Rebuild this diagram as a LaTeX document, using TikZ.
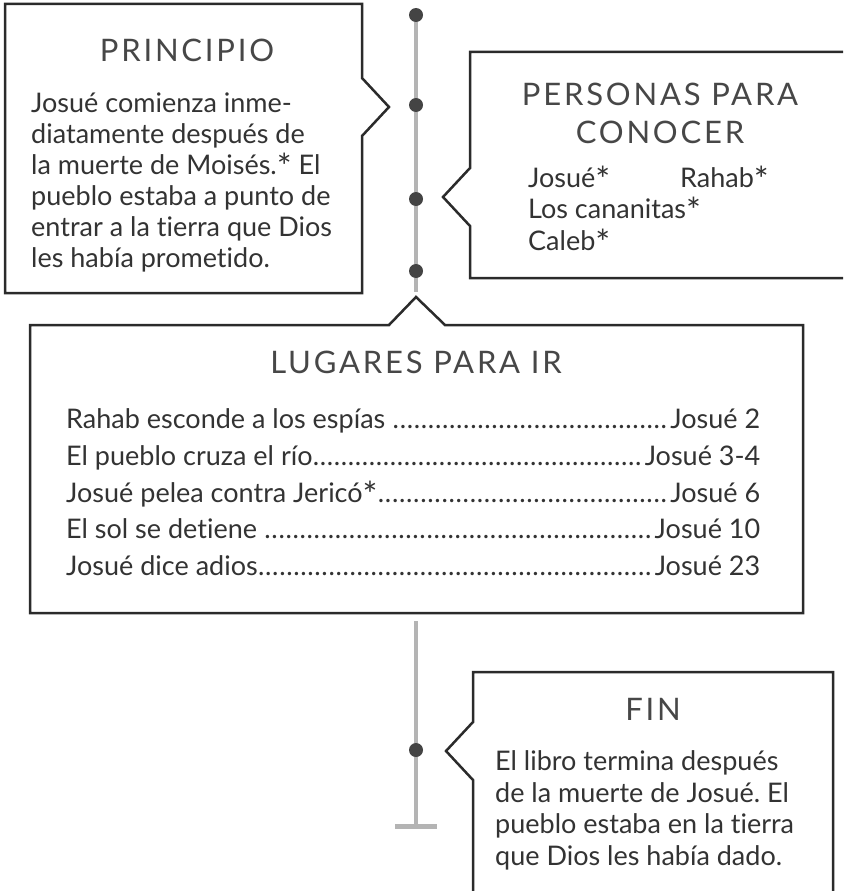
\documentclass[tikz,border=0pt]{standalone}
\usepackage{fontspec}
\setmainfont[Ligatures=NoCommon]{Lato}
\newfontfamily\titlefont[LetterSpace=9]{Lato}
\frenchspacing
\definecolor{txtgray}{HTML}{333333}
\definecolor{headgray}{HTML}{474747}
\definecolor{linegray}{HTML}{B4B4B4}
\definecolor{dotgray}{HTML}{444444}
\definecolor{boxline}{HTML}{2B2B2B}
\newcommand{\leaderdots}{\xleaders\hbox to 7pt{\hss.\hss}\hfill\kern3pt}
\newcommand{\starmark}{\smash{\raisebox{-5.5pt}{\scalebox{1.3}{*}}}}
\tikzset{
  callout/.style={draw=boxline, line width=2.5pt, line join=miter, fill=white},
  body/.style={font=\fontsize{27}{31}\selectfont, text=txtgray, inner sep=0pt},
  head/.style={font=\titlefont\fontsize{31}{36}\selectfont, text=headgray, inner sep=0pt, anchor=base},
  tdot/.style={circle, fill=dotgray, minimum size=14pt, inner sep=0pt},
}
\begin{document}
\begin{tikzpicture}[x=1pt, y=-1pt]
                \clip (0,0) rectangle (843,891);
                % timeline
                \coordinate (ltop) at (416,15);
                \coordinate (lmid) at (416,292);
                \coordinate (llow) at (416,621);
                \coordinate (lend) at (416,826);
                \draw[linegray, line width=4pt] (ltop) -- (lmid);
                \draw[linegray, line width=4pt] (llow) -- (lend);
                \draw[linegray, line width=5pt] ([xshift=-21pt]lend) -- ([xshift=21pt]lend);
                \foreach \y [count=\i] in {15,105,199,271,750}
                    \node[tdot] (t\i) at (416,\y) {};
                % boxes
                \draw[callout] (5,4) -- (362,4) -- (362,78) -- (389,107) -- (362,136) -- (362,293) -- (5,293) -- cycle;
                \draw[callout] (860,52) -- (470,52) -- (470,168) -- (443,197) -- (470,226) -- (470,278) -- (860,278);
                \draw[callout] (30,325) -- (389,325) -- (416,297) -- (445,325) -- (803,325) -- (803,613) -- (30,613) -- cycle;
                \draw[callout] (833,900) -- (833,672) -- (473,672) -- (473,722) -- (446,751) -- (473,780) -- (473,900);
                % principio
                \node[head] (principio) at (187,62) {PRINCIPIO};
                \foreach \t [count=\i] in {Josué comienza inme-, diatamente después de, la muerte de Moisés.\starmark{} El,
                        pueblo estaba a punto de, entrar a la tierra que Dios, les había prometido.}
                    \node[body, anchor=base west] (p\i) at (31,81+31*\i) {\t};
                % personas
                \node[head] (personas) at (660,105) {PERSONAS PARA};
                \node[head] (conocer) at (660,143) {CONOCER};
                \node[body, anchor=base west] (josue) at (528,187) {Josué\starmark};
                \node[body, anchor=base west] (rahab) at (680,187) {Rahab\starmark};
                \node[body, anchor=base west] (cananitas) at (528,218) {Los cananitas\starmark};
                \node[body, anchor=base west] (caleb) at (528,250) {Caleb\starmark};
                % lugares
                \node[head] (lugares) at (416,373) {LUGARES PARA IR};
                \foreach \a/\b/\y [count=\i] in {Rahab esconde a los espías~/Josué 2/428, El pueblo cruza el río/Josué 3-4/465,
                        Josué pelea contra Jericó\starmark/Josué 6/502, El sol se detiene~/Josué 10/538, Josué dice adios/Josué 23/575}
                    \node[body, anchor=base west] (r\i) at (66,\y) {\makebox[694pt]{\a\leaderdots\b}};
                % fin
                \node[head] (fin) at (653,720) {FIN};
                \foreach \t [count=\i] in {El libro termina después, de la muerte de Josué. El,
                        pueblo estaba en la tierra, que Dios les había dado.}
                    \node[body, anchor=base west] (f\i) at (495,739+31.5*\i) {\t};
            \end{tikzpicture}
\end{document}
